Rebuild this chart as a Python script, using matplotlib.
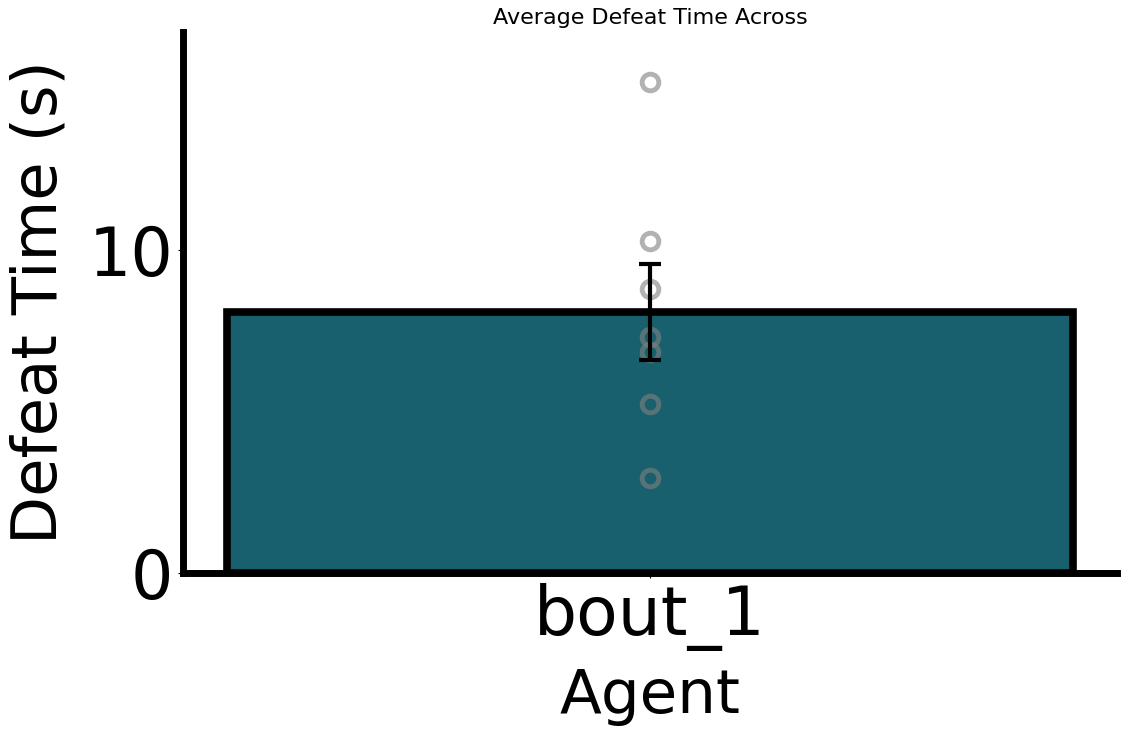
import numpy as np
import matplotlib
matplotlib.use("Agg")
import matplotlib.pyplot as plt

# dados
categorias = ["bout_1"]
tempos = [15.19, 10.26, 8.78, 7.30, 6.85, 5.23, 2.94]

media = np.mean(tempos)
sem = np.std(tempos, ddof=1) / np.sqrt(len(tempos))

fig = plt.figure(figsize=(11.23, 7.37), dpi=100)
ax = fig.add_axes([0.163, 0.2225, 0.8317, 0.7341])

ax.bar(categorias, [media], width=0.905, color="#19606e", edgecolor="black", linewidth=5.5, zorder=1)
ax.plot(np.zeros(len(tempos)), tempos, "o", markerfacecolor="none", markeredgecolor="gray",
        markersize=12, markeredgewidth=3.5, alpha=0.6, zorder=2)
ax.errorbar(0, media, yerr=sem, color="black", linewidth=3, capsize=8, capthick=3, zorder=3)

ax.set_xlim(-0.5, 0.5)
ax.set_ylim(0, 16.74)
ax.set_yticks([0, 10])

ax.spines["top"].set_visible(False)
ax.spines["right"].set_visible(False)
ax.spines["left"].set_linewidth(5)
ax.spines["bottom"].set_linewidth(5)

ax.tick_params(axis="y", labelsize=48)
ax.tick_params(axis="x", labelsize=49)
ax.set_ylabel("Defeat Time (s)", fontsize=45, labelpad=14)
ax.set_xlabel("Agent", fontsize=44, labelpad=12)
ax.set_title("Average Defeat Time Across", fontsize=16)

fig.savefig("out.png", dpi=100)
